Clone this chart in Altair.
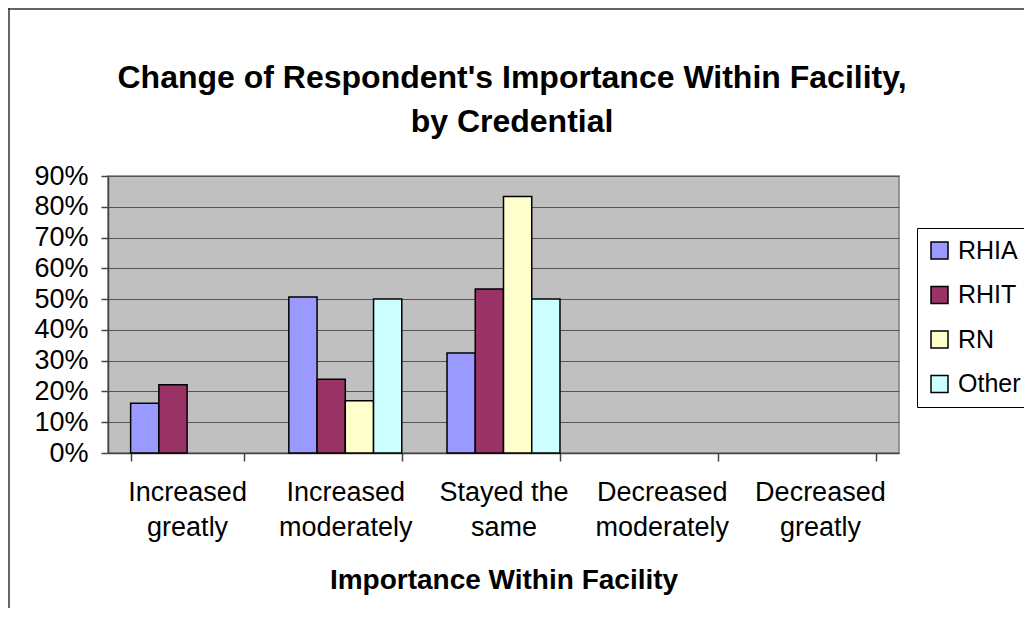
import altair as alt
import pandas as pd

categories = ["Increased|greatly", "Increased|moderately", "Stayed the|same",
              "Decreased|moderately", "Decreased|greatly"]
series = ["RHIA", "RHIT", "RN", "Other"]
colors = ["#9999FF", "#993366", "#FFFFCC", "#CCFFFF"]

rhia = [0.162, 0.507, 0.325, None, None]
rhit = [0.222, 0.24, 0.533, None, None]
rn = [None, 0.17, 0.833, None, None]
other = [None, 0.50, 0.50, None, None]

title_lines = ["Change of Respondent's Importance Within Facility,", "by Credential"]

rows = []
for s, vals in zip(series, [rhia, rhit, rn, other]):
    for c, v in zip(categories, vals):
        if v is not None:
            rows.append({"cat": c, "series": s, "value": v})
df = pd.DataFrame(rows)

FONT = "Liberation Sans"

bars = alt.Chart(df).mark_bar(stroke="black", strokeWidth=1.5).encode(
    x=alt.X("cat:N", sort=categories,
            scale=alt.Scale(domain=categories, paddingInner=0.286, paddingOuter=0.143),
            axis=alt.Axis(title="Importance Within Facility", labelAngle=0,
                          labelExpr="split(datum.label, '|')",
                          labelFontSize=27, labelLineHeight=35, labelPadding=18,
                          labelColor="black", labelFont=FONT,
                          tickBand="extent", tickSize=8, tickColor="#444", tickWidth=1.5,
                          domainColor="#444", domainWidth=1.5,
                          titleFontSize=28, titleFont=FONT, titleFontWeight="bold",
                          titleColor="black", titlePadding=26, grid=False)),
    xOffset=alt.XOffset("series:N", sort=series,
                        scale=alt.Scale(domain=series, paddingInner=0, paddingOuter=0)),
    y=alt.Y("value:Q", scale=alt.Scale(domain=[0, 0.9], nice=False),
            axis=alt.Axis(title=None, format=".0%", values=[i / 10 for i in range(10)],
                          labelFontSize=27, labelFont=FONT, labelColor="black",
                          labelPadding=13, tickSize=7, tickColor="#444", tickWidth=1.5,
                          domainColor="#444", domainWidth=1.5,
                          grid=True, gridColor="#555", gridWidth=1)),
    color=alt.Color("series:N", sort=series,
                    scale=alt.Scale(domain=series, range=colors),
                    legend=alt.Legend(title=None, orient="none", legendX=809, legendY=52,
                                      symbolType="square", symbolSize=289,
                                      symbolStrokeColor="black", symbolStrokeWidth=1.5,
                                      labelFontSize=25, labelFont=FONT, labelColor="black",
                                      labelOffset=6, rowPadding=18.5, padding=10,
                                      strokeColor="black", fillColor="white")),
)

one = alt.Data(values=[{}])

title = alt.Chart(one).mark_text(
    font=FONT, fontSize=32, fontWeight="bold", color="black",
    align="center", baseline="alphabetic", lineHeight=44,
).encode(x=alt.value(404), y=alt.value(-88), text=alt.value(title_lines))

frame_top = alt.Chart(one).mark_rule(color="#333", strokeWidth=1.5).encode(
    x=alt.value(-100), x2=alt.value(1000), y=alt.value(-167))
frame_left = alt.Chart(one).mark_rule(color="#333", strokeWidth=1.5).encode(
    x=alt.value(-99), y=alt.value(-168), y2=alt.value(500))

chart = alt.layer(bars, title, frame_top, frame_left).properties(
    width=791, height=277,
    autosize=alt.AutoSizeParams(type="none"),
    padding={"left": 100, "top": 168, "right": 125, "bottom": 155},
).configure(background="white"
).configure_view(fill="#C0C0C0", stroke="#808080", strokeWidth=1.5)

chart.save("out.html", embed_options={"renderer": "svg", "actions": False})
